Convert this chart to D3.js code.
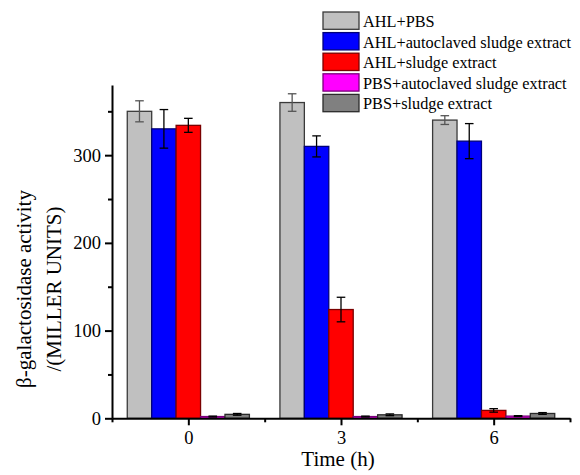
<!DOCTYPE html>
<html>
<head>
<meta charset="utf-8">
<script src="https://cdn.jsdelivr.net/npm/d3@7"></script>
<style>
  html, body { margin: 0; padding: 0; background: #fff; }
  svg text { font-family: "Liberation Serif", "Times New Roman", Times, serif !important; fill: #000; }
</style>
</head>
<body>
<svg id="chart" width="580" height="475" font-family="Liberation Serif, serif"></svg>
<script>
// ---- data ----
const times = [0, 3, 6];
const seriesNames = [
  "AHL+PBS",
  "AHL+autoclaved sludge extract",
  "AHL+sludge extract",
  "PBS+autoclaved sludge extract",
  "PBS+sludge extract"
];
const seriesColors = ["#C0C0C0", "#0000FF", "#FF0000", "#FF00FF", "#808080"];
const seriesStrokes = ["#3a3a3a", "#00007a", "#7a0000", "#7a007a", "#2a2a2a"];
const errorColors = ["#555555", "#000000", "#000000", "#000000", "#000000"];
const ahlPbs        = [350, 360, 340];
const ahlAutoclaved = [330, 310, 316];
const ahlSludge     = [334, 124, 9];
const pbsAutoclaved = [2, 2, 2.5];
const pbsSludge     = [4.5, 4, 5.5];
const errAhlPbs        = [12, 10, 5];
const errAhlAutoclaved = [22, 12, 20];
const errAhlSludge     = [8, 14, 2];
const errPbsAutoclaved = [0.5, 0.5, 0.5];
const errPbsSludge     = [1, 1, 1];
const yMajorTicks = [0, 100, 200, 300];
const yMinorTicks = [50, 150, 250, 350];
const xMajorTicks = [0, 3, 6];
const xMinorTicks = [-1.5, 1.5, 4.5, 7.5];

const values = [ahlPbs, ahlAutoclaved, ahlSludge, pbsAutoclaved, pbsSludge];
const errors = [errAhlPbs, errAhlAutoclaved, errAhlSludge, errPbsAutoclaved, errPbsSludge];

const FONT = "'Liberation Serif', 'Times New Roman', serif";

// ---- layout ----
const svg = d3.select("#chart");
const x = d3.scaleLinear().domain([-1.5, 7.5]).range([112, 570]);
const y = d3.scaleLinear().domain([0, 380]).range([418.3, 85]);
const barW = 0.48; // in x units

const bars = [];
values.forEach((vals, si) => {
  vals.forEach((v, ti) => {
    bars.push({ si, t: times[ti], v, e: errors[si][ti] });
  });
});

const g = svg.append("g");
g.selectAll("rect.bar").data(bars).enter().append("rect")
  .attr("class", "bar")
  .attr("x", d => x(d.t + (d.si - 2) * barW - barW / 2))
  .attr("width", d => x(barW) - x(0))
  .attr("y", d => y(d.v))
  .attr("height", d => y(0) - y(d.v))
  .attr("fill", d => seriesColors[d.si])
  .attr("stroke", d => seriesStrokes[d.si])
  .attr("stroke-width", 1.3);

// error bars
const capHalf = 4.3;
const eg = g.selectAll("g.err").data(bars).enter().append("g")
  .attr("stroke", d => errorColors[d.si])
  .attr("stroke-width", 1.3);
eg.append("line")
  .attr("x1", d => x(d.t + (d.si - 2) * barW)).attr("x2", d => x(d.t + (d.si - 2) * barW))
  .attr("y1", d => y(d.v + d.e)).attr("y2", d => y(d.v - d.e));
eg.append("line")
  .attr("x1", d => x(d.t + (d.si - 2) * barW) - capHalf).attr("x2", d => x(d.t + (d.si - 2) * barW) + capHalf)
  .attr("y1", d => y(d.v + d.e)).attr("y2", d => y(d.v + d.e));
eg.append("line")
  .attr("x1", d => x(d.t + (d.si - 2) * barW) - capHalf).attr("x2", d => x(d.t + (d.si - 2) * barW) + capHalf)
  .attr("y1", d => y(d.v - d.e)).attr("y2", d => y(d.v - d.e));

// ---- axes ----
const yAxis = svg.append("g").attr("transform", `translate(${x(-1.5)},0)`)
  .call(d3.axisLeft(y).tickValues(yMajorTicks).tickSize(7).tickSizeOuter(0).tickPadding(4));
svg.append("g").attr("transform", `translate(${x(-1.5)},0)`)
  .call(d3.axisLeft(y).tickValues(yMinorTicks).tickSize(4).tickSizeOuter(0).tickFormat(""))
  .select(".domain").remove();
yAxis.attr("font-family", FONT).attr("font-size", 18.5);
yAxis.selectAll("text").attr("font-size", 18.5).style("font-family", FONT);

const xAxis = svg.append("g").attr("transform", `translate(0,${y(0)})`)
  .call(d3.axisBottom(x).tickValues(xMajorTicks).tickSize(7).tickSizeOuter(0).tickPadding(6));
svg.append("g").attr("transform", `translate(0,${y(0)})`)
  .call(d3.axisBottom(x).tickValues(xMinorTicks).tickSize(4).tickSizeOuter(0).tickFormat(""))
  .select(".domain").remove();
xAxis.attr("font-family", FONT).attr("font-size", 18.5);
xAxis.selectAll("text").attr("font-size", 18.5).style("font-family", FONT);

svg.selectAll(".domain").attr("stroke", "#000").attr("stroke-width", 2);
svg.selectAll(".tick line").attr("stroke", "#000").attr("stroke-width", 2);

// axis titles
svg.append("text")
  .attr("x", (x(-1.5) + x(7.5)) / 2 - 3)
  .attr("y", 466)
  .attr("text-anchor", "middle")
  .attr("font-size", 21)
  .style("font-family", FONT)
  .text("Time (h)");

const yt = svg.append("text")
  .attr("transform", "translate(0,289) rotate(-90)")
  .attr("text-anchor", "middle")
  .attr("font-size", 21)
  .style("font-family", FONT);
yt.append("tspan").attr("x", 0).attr("y", 31).text("β-galactosidase activity");
yt.append("tspan").attr("x", 0).attr("y", 61).text("/(MILLER UNITS)");

// ---- legend ----
const leg = svg.append("g");
seriesNames.forEach((name, i) => {
  const yy = 12 + i * 20.6;
  leg.append("rect")
    .attr("x", 323).attr("y", yy).attr("width", 36).attr("height", 17.3)
    .attr("fill", seriesColors[i]).attr("stroke", seriesStrokes[i]).attr("stroke-width", 1.3);
  leg.append("text")
    .attr("x", 363).attr("y", yy + 15)
    .attr("font-size", 16.3)
    .style("font-family", FONT)
    .text(name);
});
</script>
</body>
</html>
